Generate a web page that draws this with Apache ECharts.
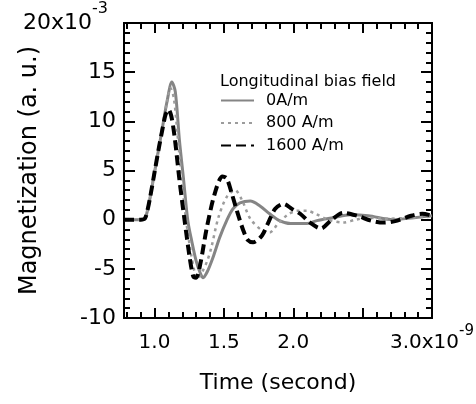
<!DOCTYPE html>
<html>
<head>
<meta charset="utf-8">
<script src="https://cdn.jsdelivr.net/npm/echarts@6/dist/echarts.min.js"></script>
<style>
html,body{margin:0;padding:0;background:#fff;}
#chart{width:476px;height:404px;}
</style>
</head>
<body>
<div id="chart"></div>
<script>
// Time in ns (axis shows x10^-9), magnetization in units of 10^-3
var seriesNames = ['0A/m', '800 A/m', '1600 A/m'];

var t0 = [0.78, 0.90, 0.93, 0.95, 0.97, 1.00, 1.03, 1.06, 1.09, 1.125, 1.15, 1.18, 1.21, 1.24, 1.27, 1.30, 1.326, 1.35, 1.38, 1.42, 1.47, 1.52, 1.565, 1.616, 1.69, 1.76, 1.83, 1.90, 1.98, 2.10, 2.17, 2.29, 2.41, 2.54, 2.72, 2.87, 3.00];
var m0 = [0, 0, 0.1, 1.0, 2.4, 4.8, 7.2, 9.6, 12.0, 14.0, 13.0, 8.0, 4.0, -0.1, -2.3, -4.2, -5.3, -5.9, -5.3, -3.9, -1.8, -0.1, 1.1, 1.7, 1.9, 1.4, 0.6, -0.1, -0.4, -0.4, -0.1, 0.2, 0.5, 0.4, 0.0, 0.2, 0.4];

var t800 = [0.78, 0.90, 0.93, 0.95, 0.97, 1.00, 1.03, 1.06, 1.09, 1.115, 1.14, 1.17, 1.20, 1.23, 1.26, 1.29, 1.31, 1.34, 1.38, 1.41, 1.46, 1.52, 1.58, 1.63, 1.69, 1.775, 1.83, 1.89, 1.96, 2.03, 2.10, 2.16, 2.25, 2.36, 2.45, 2.54, 2.68, 2.85, 3.00];
var m800 = [0, 0, 0.1, 1.0, 2.4, 4.8, 7.2, 9.6, 12.0, 13.4, 12.3, 8.0, 3.5, -0.3, -3.2, -5.4, -6.0, -5.4, -4.2, -2.8, 0.2, 2.3, 3.0, 2.0, 0.1, -1.1, -1.3, -0.4, 0.5, 0.9, 0.9, 0.6, 0.0, -0.3, 0.0, 0.2, 0.1, 0.2, 0.3];

var t1600 = [0.78, 0.90, 0.93, 0.95, 0.97, 1.00, 1.03, 1.06, 1.08, 1.10, 1.12, 1.145, 1.18, 1.217, 1.254, 1.28, 1.30, 1.33, 1.377, 1.435, 1.49, 1.52, 1.558, 1.594, 1.64, 1.674, 1.71, 1.775, 1.82, 1.87, 1.93, 1.99, 2.05, 2.12, 2.20, 2.27, 2.36, 2.46, 2.56, 2.65, 2.75, 2.85, 2.93, 3.00];
var m1600 = [0, 0, 0.1, 1.0, 2.4, 4.8, 7.2, 9.4, 10.7, 11.2, 10.6, 8.4, 4.0, -0.1, -3.9, -5.8, -5.9, -4.5, -0.8, 2.7, 4.4, 4.2, 2.6, 0.9, -1.1, -2.1, -2.3, -1.6, -0.3, 1.1, 1.6, 1.1, 0.6, -0.3, -0.9, -0.1, 0.7, 0.4, -0.1, -0.3, -0.1, 0.4, 0.6, 0.4];

var xLabelValues = [1.0, 1.5, 2.0, 3.0];
var xMajorTicks = [1.0, 1.5, 2.0, 2.5, 3.0];
var xMinorTicks = [0.8, 0.9, 1.1, 1.2, 1.3, 1.4, 1.6, 1.7, 1.8, 1.9, 2.1, 2.2, 2.3, 2.4, 2.6, 2.7, 2.8, 2.9];

function pairs(t, m) { return t.map(function (v, i) { return [v, m[i]]; }); }

var FONT = 'DejaVu Sans, Verdana, sans-serif';
var chart = echarts.init(document.getElementById('chart'), null, {renderer: 'canvas'});

function xAxisDef(pos, ticks, len, labels) {
  return {
    type: 'value', position: pos, min: 0.78, max: 3.0,
    nameMoveOverlap: false,
    axisLine: {show: true, onZero: false, lineStyle: {color: '#000', width: 2}},
    axisTick: {show: true, inside: true, length: len, customValues: ticks, lineStyle: {color: '#000', width: 2}},
    axisLabel: labels ? {
      show: true, customValues: xLabelValues, margin: 6, color: '#000', fontSize: 20, fontFamily: FONT,
      hideOverlap: false,
      formatter: function (v) { return Math.abs(v - 3) < 1e-9 ? '{a|3.0x10}{s|-9}' : '{a|' + v.toFixed(1) + '}'; },
      rich: {
        a: {fontSize: 20, fontFamily: FONT, color: '#000', lineHeight: 38},
        s: {fontSize: 15, fontFamily: FONT, color: '#000', verticalAlign: 'top'}
      }
    } : {show: false},
    splitLine: {show: false}
  };
}

var option = {
  animation: false,
  backgroundColor: '#fff',
  title: {
    text: 'Longitudinal bias field', left: 215, top: 69,
    textStyle: {fontSize: 16, fontWeight: 'normal', color: '#000', fontFamily: FONT}
  },
  legend: {
    orient: 'vertical', left: 215, top: 86, itemWidth: 33, itemHeight: 14, itemGap: 3.5,
    itemStyle: {opacity: 0, borderWidth: 0},
    textStyle: {fontSize: 16, lineHeight: 19, color: '#000', fontFamily: FONT, padding: [0, 0, 0, 7]},
    data: seriesNames
  },
  grid: {left: 124, right: 44, top: 23, bottom: 86, containLabel: false, outerBoundsMode: 'none'},
  xAxis: [
    Object.assign(xAxisDef('bottom', xMajorTicks, 10, true), {
      name: 'Time (second)', nameLocation: 'middle', nameGap: 54,
      nameTextStyle: {fontSize: 22, color: '#000', fontFamily: FONT}
    }),
    xAxisDef('bottom', xMinorTicks, 6, false),
    xAxisDef('top', xMajorTicks, 10, false),
    xAxisDef('top', xMinorTicks, 6, false)
  ],
  yAxis: [
    {
      type: 'value', position: 'left', min: -10, max: 20, interval: 5,
      name: 'Magnetization (a. u.)', nameLocation: 'middle', nameGap: 82, nameMoveOverlap: false,
      nameTextStyle: {fontSize: 24, color: '#000', fontFamily: FONT},
      axisLine: {show: true, onZero: false, lineStyle: {color: '#000', width: 2}},
      axisTick: {show: true, inside: true, length: 11, lineStyle: {color: '#000', width: 2}},
      minorTick: {show: true, splitNumber: 5, length: 6, lineStyle: {color: '#000', width: 2}},
      axisLabel: {
        margin: 8, color: '#000', fontSize: 22, fontFamily: FONT, hideOverlap: false,
        formatter: function (v) { return v === 20 ? '{a|20x10}{s|-3}' : '{a|' + v + '}'; },
        rich: {
          a: {fontSize: 22, fontFamily: FONT, color: '#000', lineHeight: 44},
          s: {fontSize: 16, fontFamily: FONT, color: '#000', verticalAlign: 'top', padding: [0, 8, 0, 0]}
        }
      },
      splitLine: {show: false}, minorSplitLine: {show: false}
    },
    {
      type: 'value', position: 'right', min: -10, max: 20, interval: 5,
      axisLine: {show: true, onZero: false, lineStyle: {color: '#000', width: 2}},
      axisTick: {show: true, inside: true, length: 11, lineStyle: {color: '#000', width: 2}},
      minorTick: {show: true, splitNumber: 5, length: 6, lineStyle: {color: '#000', width: 2}},
      axisLabel: {show: false},
      splitLine: {show: false}, minorSplitLine: {show: false}
    }
  ],
  series: [
    {
      name: seriesNames[0], type: 'line', xAxisIndex: 0, yAxisIndex: 0, smooth: 0.3,
      symbol: 'none', showSymbol: false, data: pairs(t0, m0),
      lineStyle: {color: '#858585', width: 3, type: 'solid'}, itemStyle: {color: '#858585'}, z: 2
    },
    {
      name: seriesNames[1], type: 'line', xAxisIndex: 0, yAxisIndex: 0, smooth: 0.3,
      symbol: 'none', showSymbol: false, data: pairs(t800, m800),
      lineStyle: {color: '#9c9c9c', width: 2.5, type: [3, 4]}, itemStyle: {color: '#9c9c9c'}, z: 3
    },
    {
      name: seriesNames[2], type: 'line', xAxisIndex: 0, yAxisIndex: 0, smooth: 0.3,
      symbol: 'none', showSymbol: false, data: pairs(t1600, m1600),
      lineStyle: {color: '#000', width: 4, type: [10, 5]}, itemStyle: {color: '#000'}, z: 4
    }
  ]
};
chart.setOption(option);
</script>
</body>
</html>
